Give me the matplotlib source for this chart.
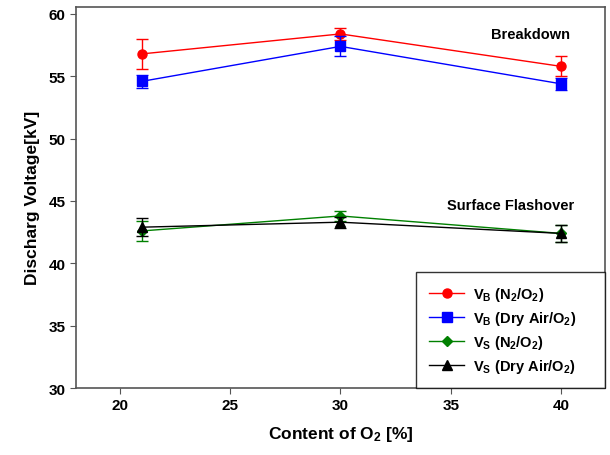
import numpy as np
import matplotlib.pyplot as plt

plt.rcParams['font.family'] = 'Liberation Sans'
plt.rcParams['font.weight'] = 'bold'
plt.rcParams['axes.labelweight'] = 'bold'
plt.rcParams['mathtext.fontset'] = 'custom'
plt.rcParams['mathtext.rm'] = 'Liberation Sans:bold'
plt.rcParams['mathtext.it'] = 'Liberation Sans:bold'
plt.rcParams['mathtext.bf'] = 'Liberation Sans:bold'

o2 = [21, 30, 40]
vb_n2 = [56.8, 58.4, 55.8]
vb_n2_err = [1.2, 0.5, 0.8]
vb_air = [54.6, 57.4, 54.4]
vb_air_err = [0.5, 0.8, 0.5]
vs_n2 = [42.6, 43.8, 42.4]
vs_n2_err = [0.8, 0.4, 0.7]
vs_air = [42.9, 43.3, 42.4]
vs_air_err = [0.7, 0.45, 0.7]

series = [
    (vb_n2, vb_n2_err, '#ff0000', 'o', r'V$_\mathrm{B}$ (N$_\mathrm{2}$/O$_\mathrm{2}$)'),
    (vb_air, vb_air_err, '#0000ff', 's', r'V$_\mathrm{B}$ (Dry Air/O$_\mathrm{2}$)'),
    (vs_n2, vs_n2_err, '#008000', 'D', r'V$_\mathrm{S}$ (N$_\mathrm{2}$/O$_\mathrm{2}$)'),
    (vs_air, vs_air_err, '#000000', '^', r'V$_\mathrm{S}$ (Dry Air/O$_\mathrm{2}$)'),
]

fig = plt.figure(figsize=(6.1, 4.56), dpi=100)
ax = fig.add_axes([76 / 610, 1 - 389 / 456, (605 - 76) / 610, (389 - 7.5) / 456])

handles = []
for y, err, c, m, lab in series:
    ax.errorbar(o2, y, yerr=err, fmt='none', ecolor=c, elinewidth=1, capsize=4, capthick=1)
    ln, = ax.plot(o2, y, color=c, marker=m, markersize=6.5 if m != 'D' else 5.5,
                  linewidth=1, label=lab)
    handles.append(ln)

ax.text(38.6, 58.4, 'Breakdown', ha='center', va='center', fontsize=10.5)
ax.text(37.7, 44.7, 'Surface Flashover', ha='center', va='center', fontsize=10.5)

ax.set_xlim(18, 42)
ax.set_ylim(30, 60.6)
ax.set_xticks([20, 25, 30, 35, 40])
ax.set_yticks([30, 35, 40, 45, 50, 55, 60])
ax.tick_params(direction='out', length=4, labelsize=11, color='#555555')
for s in ax.spines.values():
    s.set_color('#555555')
    s.set_linewidth(1.2)

ax.set_xlabel(r'Content of O$_\mathrm{2}$ [%]', fontsize=12.5, labelpad=8)
ax.set_ylabel('Discharg Voltage[kV]', fontsize=12.5, labelpad=6)

leg = ax.legend(handles=handles, loc='lower left', bbox_to_anchor=(0.643, 0, 0.357, 0.3),
                mode='expand', fontsize=10.5, frameon=True,
                fancybox=False, borderaxespad=0, edgecolor='black', handlelength=2.4,
                handletextpad=0.6, labelspacing=0.4, borderpad=0.9)
leg.get_frame().set_linewidth(1)

fig.savefig('out.png', dpi=100)
